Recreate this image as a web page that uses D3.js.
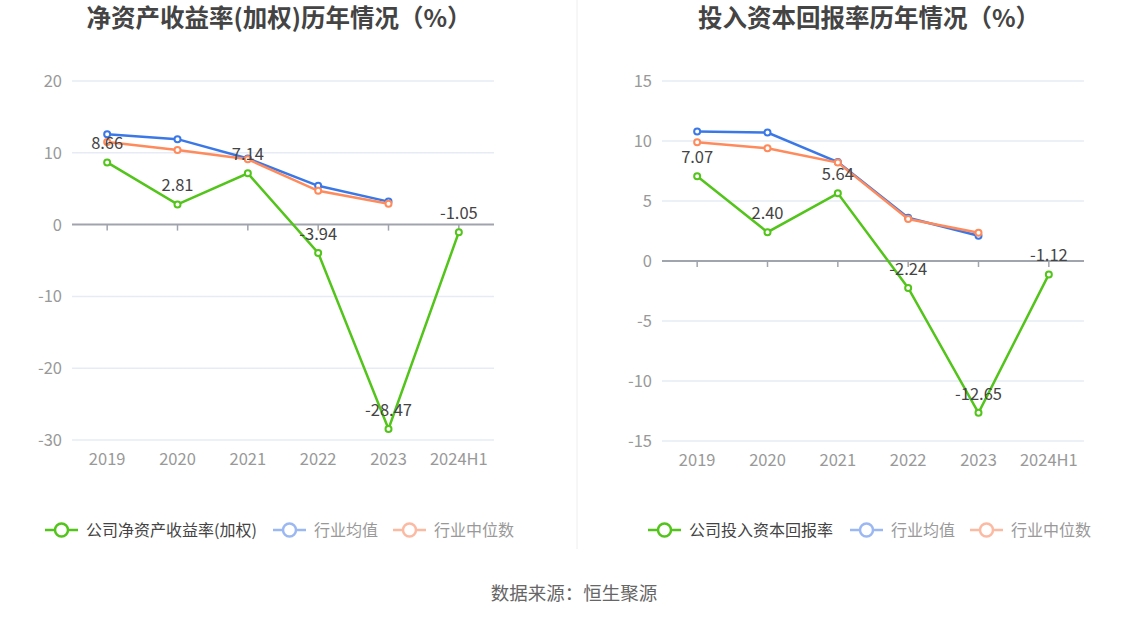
<!DOCTYPE html>
<html>
<head>
<meta charset="utf-8">
<script src="https://cdn.jsdelivr.net/npm/d3@7"></script>
<style>
  body { margin: 0; background: #fff; }
  text { font-family: "Noto Sans CJK SC", "Noto Sans", sans-serif; }
</style>
</head>
<body>
<div id="chart"></div>
<script>
// data
var years = ["2019", "2020", "2021", "2022", "2023", "2024H1"];

var roeCompany = [8.66, 2.81, 7.14, -3.94, -28.47, -1.05];
var roeMean = [12.6, 11.9, 9.2, 5.4, 3.2];
var roeMedian = [11.5, 10.4, 9.1, 4.7, 2.9];
var roeTicks = [20, 10, 0, -10, -20, -30];

var roicCompany = [7.07, 2.40, 5.64, -2.24, -12.65, -1.12];
var roicMean = [10.8, 10.7, 8.25, 3.6, 2.1];
var roicMedian = [9.9, 9.4, 8.2, 3.5, 2.35];
var roicTicks = [15, 10, 5, 0, -5, -10, -15];

var green = "#52c41a";
var blue = "#3b78e7";
var orange = "#ff8a5b";

var svg = d3.select("#chart")
  .append("svg")
  .attr("width", 1147)
  .attr("height", 619);

// divider between the two panels
svg.append("line")
  .attr("x1", 577).attr("x2", 577)
  .attr("y1", 0).attr("y2", 549)
  .attr("stroke", "#eeeeee");

svg.append("text")
  .attr("x", 574)
  .attr("y", 600)
  .attr("text-anchor", "middle")
  .attr("font-size", 18.5)
  .attr("fill", "#666")
  .text("数据来源：恒生聚源");

function drawPanel(opt) {
  var g = svg.append("g");

  g.append("text")
    .attr("x", opt.titleX)
    .attr("y", 27)
    .attr("text-anchor", "middle")
    .attr("font-size", 24.5)
    .attr("font-weight", "bold")
    .attr("fill", "#444")
    .text(opt.title);

  var x = d3.scaleBand().domain(years).range([opt.x0, opt.x1]);
  var y = d3.scaleLinear().domain(opt.domain).range([opt.yBottom, opt.yTop]);
  var cx = function(i) { return x(years[i]) + x.bandwidth() / 2; };

  // grid lines
  g.selectAll(".grid")
    .data(opt.ticks.filter(function(t) { return t !== 0; }))
    .enter().append("line")
    .attr("x1", opt.x0).attr("x2", opt.x1)
    .attr("y1", function(d) { return y(d); })
    .attr("y2", function(d) { return y(d); })
    .attr("stroke", "#e6ebf5")
    .attr("stroke-width", 1.5);

  // y labels
  g.selectAll(".ylab")
    .data(opt.ticks)
    .enter().append("text")
    .attr("x", opt.x0 - 10)
    .attr("y", function(d) { return y(d) + 6; })
    .attr("text-anchor", "end")
    .attr("font-size", 16.5)
    .attr("fill", "#999")
    .text(function(d) { return d; });

  // x labels
  g.selectAll(".xlab")
    .data(years)
    .enter().append("text")
    .attr("x", function(d, i) { return cx(i); })
    .attr("y", opt.yBottom + 25)
    .attr("text-anchor", "middle")
    .attr("font-size", 16.5)
    .attr("fill", "#999")
    .text(function(d) { return d; });

  // zero axis line with ticks
  g.append("line")
    .attr("x1", opt.x0).attr("x2", opt.x1)
    .attr("y1", y(0)).attr("y2", y(0))
    .attr("stroke", "#a0a4ad")
    .attr("stroke-width", 2);

  g.selectAll(".tick")
    .data(years)
    .enter().append("line")
    .attr("x1", function(d, i) { return cx(i); })
    .attr("x2", function(d, i) { return cx(i); })
    .attr("y1", y(0))
    .attr("y2", y(0) + 6)
    .attr("stroke", "#a0a4ad")
    .attr("stroke-width", 1.5);

  var line = d3.line()
    .x(function(d, i) { return cx(i); })
    .y(function(d) { return y(d); });

  var series = [
    { values: opt.mean, color: blue },
    { values: opt.median, color: orange },
    { values: opt.company, color: green }
  ];

  series.forEach(function(s) {
    g.append("path")
      .datum(s.values)
      .attr("d", line)
      .attr("fill", "none")
      .attr("stroke", s.color)
      .attr("stroke-width", 2.5);

    g.selectAll(null)
      .data(s.values)
      .enter().append("circle")
      .attr("cx", function(d, i) { return cx(i); })
      .attr("cy", function(d) { return y(d); })
      .attr("r", 3)
      .attr("fill", "#fff")
      .attr("stroke", s.color)
      .attr("stroke-width", 2);
  });

  // value labels on the company series
  g.selectAll(".vlab")
    .data(opt.company)
    .enter().append("text")
    .attr("x", function(d, i) { return cx(i); })
    .attr("y", function(d) { return y(d) - 13; })
    .attr("text-anchor", "middle")
    .attr("font-size", 16.5)
    .attr("fill", "#444")
    .text(function(d) { return d.toFixed(2); });

  // legend
  var legend = [
    { label: opt.legendName, color: green, text: "#444" },
    { label: "行业均值", color: "#9cb8f3", text: "#999" },
    { label: "行业中位数", color: "#fcbaa3", text: "#999" }
  ];

  legend.forEach(function(l, i) {
    var lx = opt.legendX[i];
    g.append("line")
      .attr("x1", lx).attr("x2", lx + 33)
      .attr("y1", 530).attr("y2", 530)
      .attr("stroke", l.color)
      .attr("stroke-width", 2.5);
    g.append("circle")
      .attr("cx", lx + 16.5)
      .attr("cy", 530)
      .attr("r", 6.5)
      .attr("fill", "#fff")
      .attr("stroke", l.color)
      .attr("stroke-width", 2.5);
    g.append("text")
      .attr("x", lx + 41)
      .attr("y", 536)
      .attr("font-size", 16)
      .attr("fill", l.text)
      .text(l.label);
  });
}

drawPanel({
  title: "净资产收益率(加权)历年情况（%）",
  titleX: 279,
  x0: 72, x1: 494,
  yTop: 81, yBottom: 440,
  domain: [-30, 20],
  ticks: roeTicks,
  company: roeCompany,
  mean: roeMean,
  median: roeMedian,
  legendName: "公司净资产收益率(加权)",
  legendX: [45, 273, 393]
});

drawPanel({
  title: "投入资本回报率历年情况（%）",
  titleX: 869,
  x0: 662, x1: 1084,
  yTop: 81, yBottom: 441,
  domain: [-15, 15],
  ticks: roicTicks,
  company: roicCompany,
  mean: roicMean,
  median: roicMedian,
  legendName: "公司投入资本回报率",
  legendX: [648, 850, 970]
});
</script>
</body>
</html>
